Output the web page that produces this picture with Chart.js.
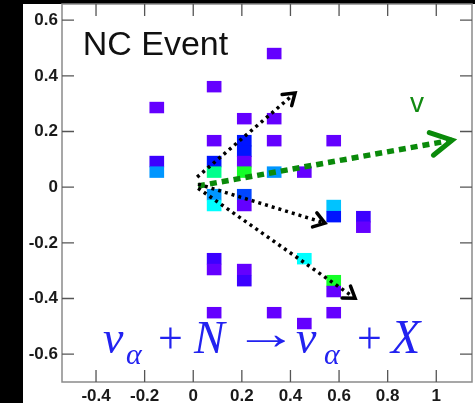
<!DOCTYPE html>
<html>
<head>
<meta charset="utf-8">
<script src="https://cdn.jsdelivr.net/npm/chart.js@4.4.1/dist/chart.umd.min.js"></script>
<style>
  html, body { margin: 0; padding: 0; background: #000; overflow: hidden; }
  canvas { display: block; }
</style>
</head>
<body>
<canvas id="ncChart" width="475" height="403"></canvas>
<script>
// cell centres (x, y) and their weight
const cellX = [
  -0.15, -0.15, -0.15,
  0.086, 0.086, 0.086, 0.086, 0.086, 0.086, 0.086, 0.086, 0.086,
  0.21, 0.21, 0.21, 0.21, 0.21, 0.21, 0.21, 0.21, 0.21,
  0.333, 0.333, 0.333, 0.333, 0.333,
  0.457, 0.457, 0.457,
  0.578, 0.578, 0.578, 0.578, 0.578, 0.578,
  0.70, 0.70
];
const cellY = [
  0.286, 0.092, 0.054,
  0.361, 0.167, 0.092, 0.054, -0.027, -0.066, -0.257, -0.296, -0.451,
  0.246, 0.167, 0.129, 0.092, 0.054, -0.027, -0.066, -0.296, -0.336,
  0.480, 0.246, 0.167, 0.054, -0.451,
  0.054, -0.257, -0.490,
  0.167, -0.066, -0.106, -0.336, -0.375, -0.451,
  -0.106, -0.144
];
const cellZ = [
  1, 2, 5,
  1, 1, 3, 8, 5, 7, 2, 1, 1,
  1, 3, 3, 1, 9, 4, 1, 1, 2,
  1, 1, 1, 5, 1,
  1, 7, 1,
  1, 6, 3, 9, 1, 1,
  2, 1
];

// arrows: start and end points
const blackArrowStarts = [[0.016, 0.036], [0.020, 0.011], [0.020, -0.004]];
const blackArrowEnds = [[0.419, 0.338], [0.542, -0.129], [0.666, -0.399]];
const greenArrowStart = [0.020, 0.004];
const greenArrowEnd = [1.065, 0.169];

const xTickLabels = [-0.4, -0.2, 0, 0.2, 0.4, 0.6, 0.8, 1];
const yTickLabels = [-0.6, -0.4, -0.2, 0, 0.2, 0.4, 0.6];

const cellHeight = 0.0388;
const palette = ['#6400ff', '#3c00ff', '#0014ff', '#0046ff', '#0096ff', '#00c3ff', '#00ffff', '#00ff8c', '#14ff28'];

function tickLabel(list) {
  return function (v) {
    const hit = list.find(t => Math.abs(t - v) < 1e-6);
    return hit === undefined ? null : String(hit);
  };
}

const pageBg = {
  id: 'pageBg',
  beforeDraw(chart) {
    const c = chart.ctx;
    c.save();
    c.fillStyle = '#000';
    c.fillRect(0, 0, chart.width, chart.height);
    c.fillStyle = '#fff';
    c.fillRect(23, 4, chart.width - 23, chart.height - 4);
    c.restore();
  }
};

const arrowHeads = {
  id: 'arrowHeads',
  afterDatasetsDraw(chart) {
    const c = chart.ctx;
    chart.data.datasets.forEach((ds, i) => {
      if (!ds.headLength) return;
      const pts = chart.getDatasetMeta(i).data;
      const a = pts[0], b = pts[pts.length - 1];
      const ang = Math.atan2(b.y - a.y, b.x - a.x);
      const L = ds.headLength, w = ds.headAngle;
      c.save();
      c.strokeStyle = ds.borderColor;
      c.lineWidth = ds.headWidth;
      c.lineJoin = 'miter';
      c.lineCap = 'round';
      c.beginPath();
      c.moveTo(b.x - L * Math.cos(ang - w), b.y - L * Math.sin(ang - w));
      c.lineTo(b.x, b.y);
      c.lineTo(b.x - L * Math.cos(ang + w), b.y - L * Math.sin(ang + w));
      c.stroke();
      c.restore();
    });
  }
};

const frameTicks = {
  id: 'frameTicks',
  afterDraw(chart) {
    const c = chart.ctx;
    const { left, right, top, bottom } = chart.chartArea;
    const xs = chart.scales.x, ys = chart.scales.y;
    c.save();
    c.strokeStyle = '#8a8a8a';
    c.lineWidth = 1.5;
    c.strokeRect(left, top, right - left, bottom - top);
    c.strokeStyle = '#555';
    c.lineWidth = 1.3;
    c.beginPath();
    xs.ticks.forEach(t => {
      const major = xTickLabels.some(v => Math.abs(v - t.value) < 1e-6);
      const px = xs.getPixelForValue(t.value);
      const len = major ? 12 : 6;
      c.moveTo(px, bottom); c.lineTo(px, bottom - len);
      c.moveTo(px, top); c.lineTo(px, top + len);
    });
    ys.ticks.forEach(t => {
      const major = yTickLabels.some(v => Math.abs(v - t.value) < 1e-6);
      const py = ys.getPixelForValue(t.value);
      const len = major ? 12 : 6;
      c.moveTo(left, py); c.lineTo(left + len, py);
      c.moveTo(right, py); c.lineTo(right - len, py);
    });
    c.stroke();
    c.restore();
  }
};

const labels = {
  id: 'labels',
  afterDraw(chart) {
    const c = chart.ctx;
    const xs = chart.scales.x, ys = chart.scales.y;
    c.save();
    c.textBaseline = 'alphabetic';
    c.textAlign = 'left';

    c.fillStyle = '#111';
    c.font = '34px "Liberation Sans", Arial, sans-serif';
    c.fillText('NC Event', xs.getPixelForValue(-0.455), ys.getPixelForValue(0.474));

    c.fillStyle = '#118a11';
    c.font = '28px "Liberation Sans", Arial, sans-serif';
    c.fillText('v', xs.getPixelForValue(0.892), ys.getPixelForValue(0.269));

    const x0 = xs.getPixelForValue(-0.371), y0 = ys.getPixelForValue(-0.596);
    const serif = '"Liberation Serif", "DejaVu Serif", serif';
    // [text, font, x offset, y offset, horizontal stretch]
    const pieces = [
      ['\u03bd', 'italic 46px', 0, 0, 1],
      ['\u03b1', 'italic 30px', 23, 11, 1],
      ['+', '44px', 55, 0, 1],
      ['N', 'italic 46px', 91, 0, 1],
      ['\u2192', '46px', 131, -4, 1.4],
      ['\u03bd', 'italic 46px', 193, 0, 1],
      ['\u03b1', 'italic 30px', 221, 11, 1],
      ['+', '44px', 254, 0, 1],
      ['X', 'italic 48px', 288, 0, 1]
    ];
    c.fillStyle = '#2222f0';
    pieces.forEach(([t, f, dx, dy, sx]) => {
      c.save();
      c.font = f + ' ' + serif;
      c.translate(x0 + dx, y0 + dy);
      c.scale(sx, 1);
      c.fillText(t, 0, 0);
      c.restore();
    });
    c.restore();
  }
};

const ctx = document.getElementById('ncChart').getContext('2d');
new Chart(ctx, {
  type: 'bar',
  data: {
    datasets: [
      {
        type: 'bar',
        data: cellX.map((x, i) => ({ x: x, y: [cellY[i] - cellHeight / 2, cellY[i] + cellHeight / 2] })),
        backgroundColor: cellZ.map(z => palette[z - 1]),
        borderWidth: 0,
        barThickness: 14,
        order: 10
      },
      ...blackArrowStarts.map((s, i) => ({
        type: 'line',
        data: [{ x: s[0], y: s[1] }, { x: blackArrowEnds[i][0], y: blackArrowEnds[i][1] }],
        borderColor: '#000',
        borderWidth: 3.5,
        borderDash: [3, 4],
        pointRadius: 0,
        fill: false,
        headLength: 13,
        headAngle: 0.6,
        headWidth: 3.5,
        order: 1
      })),
      {
        type: 'line',
        data: [{ x: greenArrowStart[0], y: greenArrowStart[1] }, { x: greenArrowEnd[0], y: greenArrowEnd[1] }],
        borderColor: '#0a8a0a',
        borderWidth: 5.5,
        borderDash: [7, 5],
        pointRadius: 0,
        fill: false,
        headLength: 24,
        headAngle: 0.5,
        headWidth: 5,
        order: 1
      }
    ]
  },
  options: {
    responsive: false,
    animation: false,
    devicePixelRatio: 1,
    layout: { padding: { left: 23, top: 4, right: 3, bottom: 0 } },
    plugins: { legend: { display: false }, tooltip: { enabled: false } },
    scales: {
      x: {
        type: 'linear',
        min: -0.54,
        max: 1.147,
        offset: false,
        grid: { display: false, drawTicks: false },
        border: { display: false },
        ticks: {
          stepSize: 0.05,
          autoSkip: false,
          includeBounds: false,
          maxRotation: 0,
          padding: 4,
          color: '#1a1a1a',
          font: { family: '"Liberation Sans", Arial, sans-serif', size: 17, weight: 'bold' },
          callback: tickLabel(xTickLabels)
        },
        afterFit(s) { s.height = 21; s.paddingLeft = 0; s.paddingRight = 0; }
      },
      y: {
        type: 'linear',
        min: -0.70,
        max: 0.658,
        grid: { display: false, drawTicks: false },
        border: { display: false },
        ticks: {
          stepSize: 0.05,
          autoSkip: false,
          includeBounds: false,
          padding: 4,
          color: '#1a1a1a',
          font: { family: '"Liberation Sans", Arial, sans-serif', size: 17, weight: 'bold' },
          callback: tickLabel(yTickLabels)
        },
        afterFit(s) { s.width = 39; s.paddingTop = 0; s.paddingBottom = 0; }
      }
    }
  },
  plugins: [pageBg, arrowHeads, frameTicks, labels]
});
</script>
</body>
</html>
